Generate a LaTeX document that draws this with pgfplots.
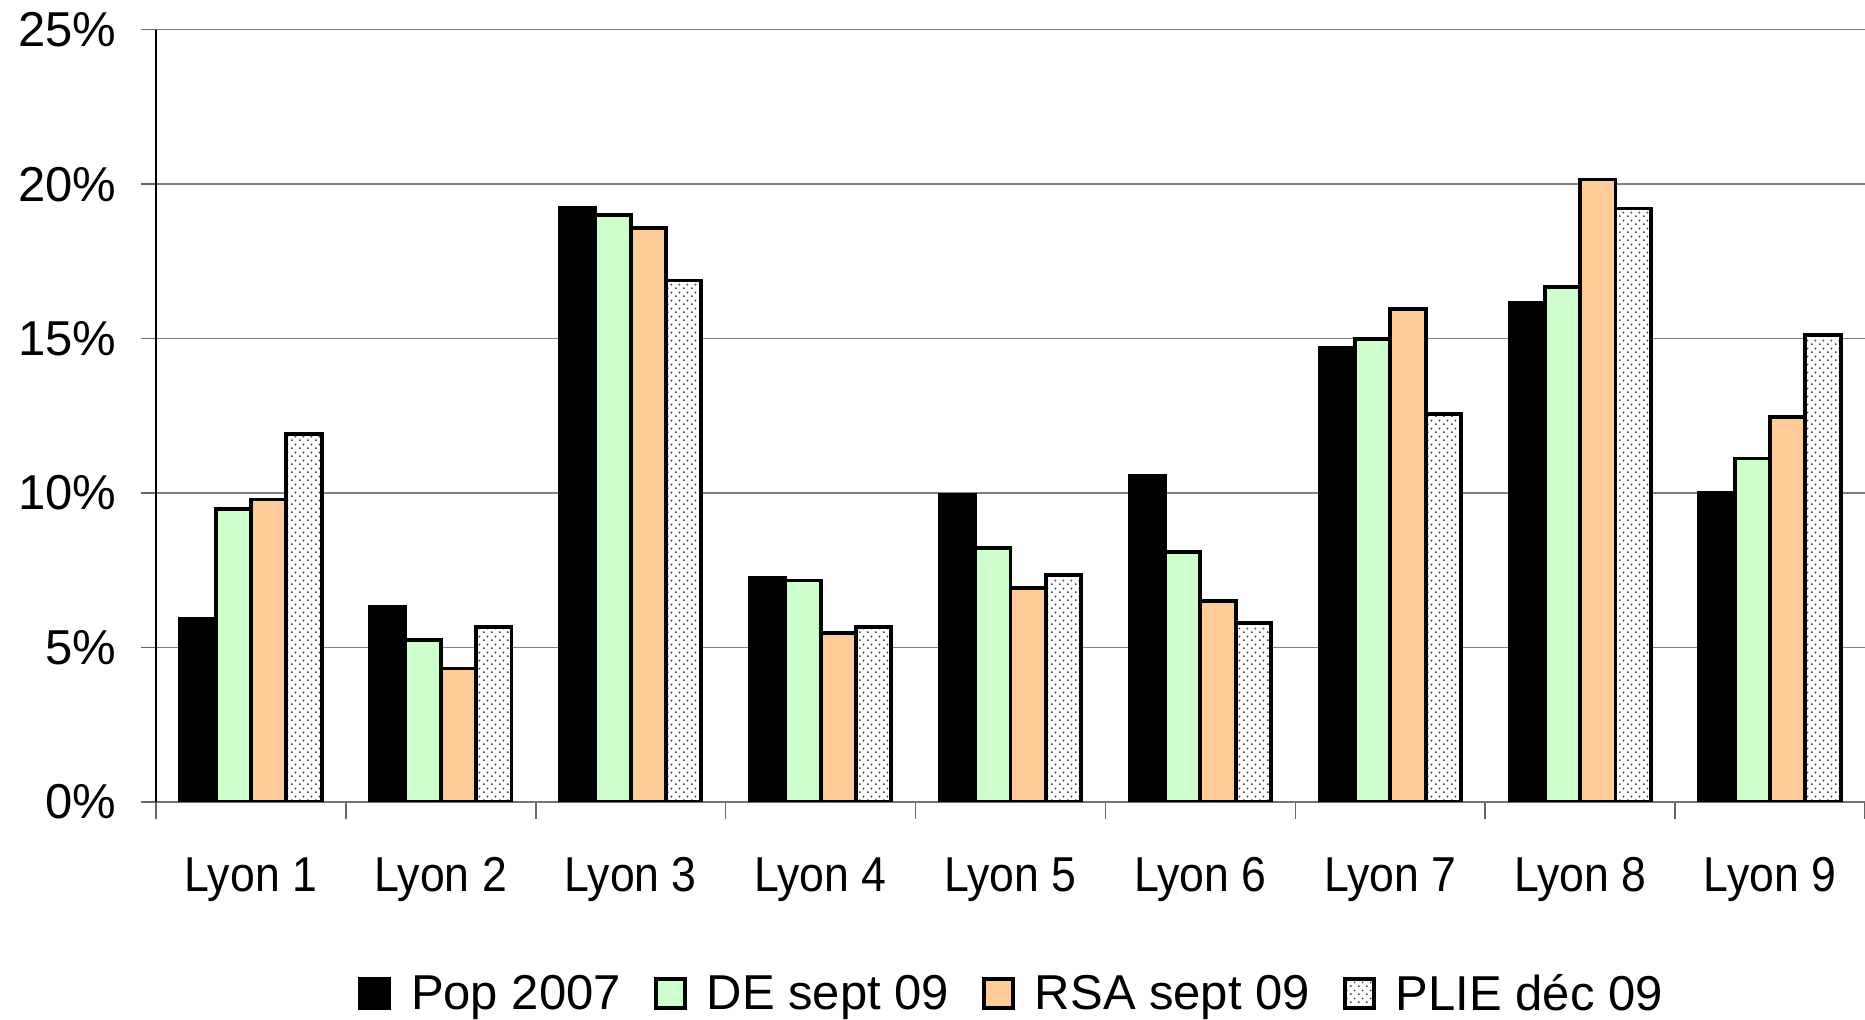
\documentclass[border=0pt]{standalone}
\usepackage{fontspec}
\setmainfont{Liberation Sans}
\newfontfamily\narrowfont[FakeStretch=0.91]{Liberation Sans}
\usepackage{pgfplots}
\pgfplotsset{compat=1.18}
\usetikzlibrary{patterns}
\definecolor{degreen}{RGB}{204,255,204}
\definecolor{rsaorange}{RGB}{255,204,153}
\pgfdeclarepatternformonly{finedots}{\pgfqpoint{0pt}{0pt}}{\pgfqpoint{2.3pt}{2.3pt}}{\pgfqpoint{2.3pt}{2.3pt}}{%
  \pgfpathcircle{\pgfqpoint{0.575pt}{0.575pt}}{0.32pt}%
  \pgfpathcircle{\pgfqpoint{1.725pt}{1.725pt}}{0.32pt}%
  \pgfusepath{fill}}
\newcommand{\chartfont}{\fontsize{13.94}{16}\selectfont}
\pgfplotsset{
  sqlegend/.style={legend image code/.code={\draw[##1] (0mm,-1.3mm) rectangle (2.9mm,1.6mm);}},
}
\begin{document}
\begin{tikzpicture}
\useasboundingbox (-15.6mm,-21.8mm) rectangle (170.9mm,80.2mm);
\begin{axis}[
  at={(0,0)}, anchor=south west,
  scale only axis, width=170.9mm, height=77.23mm,
  xmin=-0.5, xmax=8.5, ymin=0, ymax=25,
  ybar=0pt, bar width=0.186,
  axis lines=left, axis line style={-},
  x axis line style={draw=black!55, line width=0.45pt},
  y axis line style={draw=black, line width=0.45pt},
  ytick={0,5,...,25}, yticklabels={0\%,5\%,10\%,15\%,20\%,25\%},
  xtick={0,...,8},
  xticklabels={Lyon 1,Lyon 2,Lyon 3,Lyon 4,Lyon 5,Lyon 6,Lyon 7,Lyon 8,Lyon 9},
  minor xtick={-0.5,0.5,...,8.5},
  tick align=outside, major tick length=1.5mm, minor tick length=1.7mm,
  major x tick style={draw=none},
  minor x tick style={draw=black!60, line width=0.45pt},
  major y tick style={draw=black!60, line width=0.45pt},
  ymajorgrids, major grid style={draw=black!50, line width=0.45pt},
  /pgf/number format/assume math mode=true,
  yticklabel style={font=\chartfont, inner sep=0pt, xshift=-2.4mm},
  xticklabel style={font=\narrowfont\chartfont, inner sep=0pt, yshift=-4.0mm},
  legend columns=-1,
  legend style={at={(0.5,0)}, anchor=north, yshift=-17.2mm, draw=none,
    inner sep=0pt, font=\chartfont, nodes={inner sep=0pt},
    /tikz/every odd column/.append style={column sep=2.0mm},
    /tikz/every even column/.append style={column sep=3.3mm}},
]
\addplot[draw=black, line width=1.1pt, fill=black, sqlegend] coordinates {
 (0,5.94) (1,6.33) (2,19.23) (3,7.25) (4,9.95) (5,10.56) (6,14.69) (7,16.14) (8,10.02)};
\addplot[draw=black, line width=1.1pt, fill=degreen, sqlegend] coordinates {
 (0,9.48) (1,5.25) (2,19.00) (3,7.17) (4,8.21) (5,8.10) (6,14.99) (7,16.68) (8,11.12)};
\addplot[draw=black, line width=1.1pt, fill=rsaorange, sqlegend] coordinates {
 (0,9.79) (1,4.32) (2,18.58) (3,5.48) (4,6.94) (5,6.52) (6,15.95) (7,20.15) (8,12.46)};
\addplot[draw=black, line width=1.1pt, fill=white, postaction={pattern=finedots, pattern color=black!75}, sqlegend] coordinates {
 (0,11.91) (1,5.67) (2,16.88) (3,5.67) (4,7.36) (5,5.79) (6,12.56) (7,19.21) (8,15.11)};
\legend{Pop 2007,DE sept 09,RSA sept 09,PLIE déc 09}
\end{axis}
\end{tikzpicture}
\end{document}
